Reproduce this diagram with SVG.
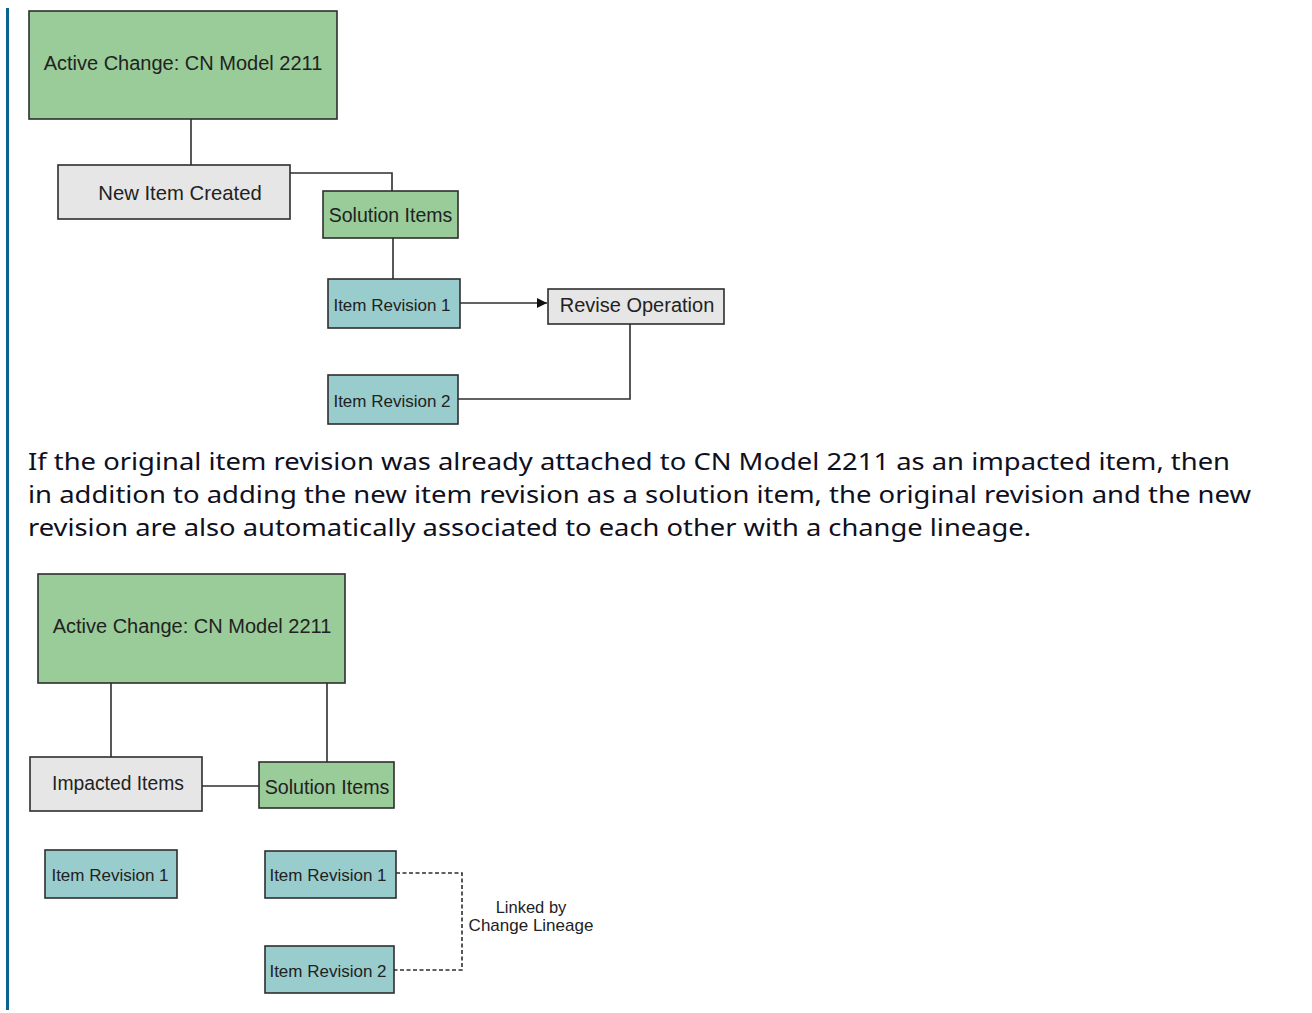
<svg xmlns="http://www.w3.org/2000/svg" width="1312" height="1013" viewBox="0 0 1312 1013">
  <style>
    .box { stroke: #2e2e2e; stroke-width: 1.6; }
    .green { fill: #99cc99; }
    .grey { fill: #e6e6e6; }
    .teal { fill: #99cccc; }
    .lbl { font-family: "Liberation Sans", Arial, sans-serif; fill: #222; text-anchor: middle; }
    .conn { fill: none; stroke: #2e2e2e; stroke-width: 1.6; }
    .dash { fill: none; stroke: #2e2e2e; stroke-width: 1.6; stroke-dasharray: 4 2.5; }
    .para { font-family: "Noto Sans", "Open Sans", sans-serif; font-size: 23px; fill: #0f0f1e; }
  </style>
  <defs>
    <marker id="arrow" viewBox="0 0 10 10" refX="10" refY="5" markerWidth="10" markerHeight="10" markerUnits="userSpaceOnUse" orient="auto">
      <path d="M0,0 L10,5 L0,10 z" fill="#111"/>
    </marker>
  </defs>

  <rect width="1312" height="1013" fill="#ffffff"/>
  <!-- side rule -->
  <rect x="6" y="8" width="3" height="1002" fill="#0a6490"/>

  <!-- upper diagram: connectors -->
  <g id="connectors-top">
    <path class="conn" d="M191,119 V165"/>
    <path class="conn" d="M290,173 H392 V191"/>
    <path class="conn" d="M393,238 V279"/>
    <path class="conn" d="M460,303 H547" marker-end="url(#arrow)"/>
    <path class="conn" d="M630,324 V399 H458"/>
  </g>

  <g id="active-change-top">
    <rect class="box green" x="29" y="11" width="308" height="108"/>
    <text class="lbl" x="183" y="70" font-size="20">Active Change: CN Model 2211</text>
  </g>
  <g id="new-item-created">
    <rect class="box grey" x="58" y="165" width="232" height="54"/>
    <text class="lbl" x="180" y="200" font-size="20.3">New Item Created</text>
  </g>
  <g id="solution-items-top">
    <rect class="box green" x="323" y="191" width="135" height="47"/>
    <text class="lbl" x="390.5" y="222" font-size="19.5">Solution Items</text>
  </g>
  <g id="item-revision-1-top">
    <rect class="box teal" x="328" y="279" width="132" height="49"/>
    <text class="lbl" x="392" y="311" font-size="17">Item Revision 1</text>
  </g>
  <g id="revise-operation">
    <rect class="box grey" x="548" y="289" width="176" height="35"/>
    <text class="lbl" x="637" y="312" font-size="20">Revise Operation</text>
  </g>
  <g id="item-revision-2-top">
    <rect class="box teal" x="328" y="375" width="130" height="49"/>
    <text class="lbl" x="392" y="407" font-size="17">Item Revision 2</text>
  </g>

  <!-- explanatory paragraph -->
  <g id="paragraph">
    <text class="para" x="28" y="470" textLength="1202" lengthAdjust="spacingAndGlyphs">If the original item revision was already attached to CN Model 2211 as an impacted item, then</text>
    <text class="para" x="28" y="503" textLength="1223" lengthAdjust="spacingAndGlyphs">in addition to adding the new item revision as a solution item, the original revision and the new</text>
    <text class="para" x="28" y="536" textLength="1003" lengthAdjust="spacingAndGlyphs">revision are also automatically associated to each other with a change lineage.</text>
  </g>

  <!-- lower diagram: connectors -->
  <g id="connectors-bottom">
    <path class="conn" d="M111,683 V757"/>
    <path class="conn" d="M327,683 V762"/>
    <path class="conn" d="M202,786 H259"/>
    <path class="dash" d="M396,873 H462 V970 H394"/>
  </g>

  <g id="active-change-bottom">
    <rect class="box green" x="38" y="574" width="307" height="109"/>
    <text class="lbl" x="192" y="633" font-size="20">Active Change: CN Model 2211</text>
  </g>
  <g id="impacted-items">
    <rect class="box grey" x="30" y="757" width="172" height="54"/>
    <text class="lbl" x="118" y="790" font-size="19.3">Impacted Items</text>
  </g>
  <g id="solution-items-bottom">
    <rect class="box green" x="259" y="762" width="135" height="46"/>
    <text class="lbl" x="327" y="794" font-size="19.7">Solution Items</text>
  </g>
  <g id="impacted-item-revision-1">
    <rect class="box teal" x="45" y="850" width="132" height="48"/>
    <text class="lbl" x="110" y="881" font-size="17">Item Revision 1</text>
  </g>
  <g id="solution-item-revision-1">
    <rect class="box teal" x="265" y="851" width="131" height="47"/>
    <text class="lbl" x="328" y="881" font-size="17">Item Revision 1</text>
  </g>
  <g id="solution-item-revision-2">
    <rect class="box teal" x="265" y="946" width="129" height="47"/>
    <text class="lbl" x="328" y="977" font-size="17">Item Revision 2</text>
  </g>
  <g id="lineage-label">
    <text class="lbl" x="531" y="913" font-size="16.5">Linked by</text>
    <text class="lbl" x="531" y="931" font-size="17">Change Lineage</text>
  </g>
</svg>
